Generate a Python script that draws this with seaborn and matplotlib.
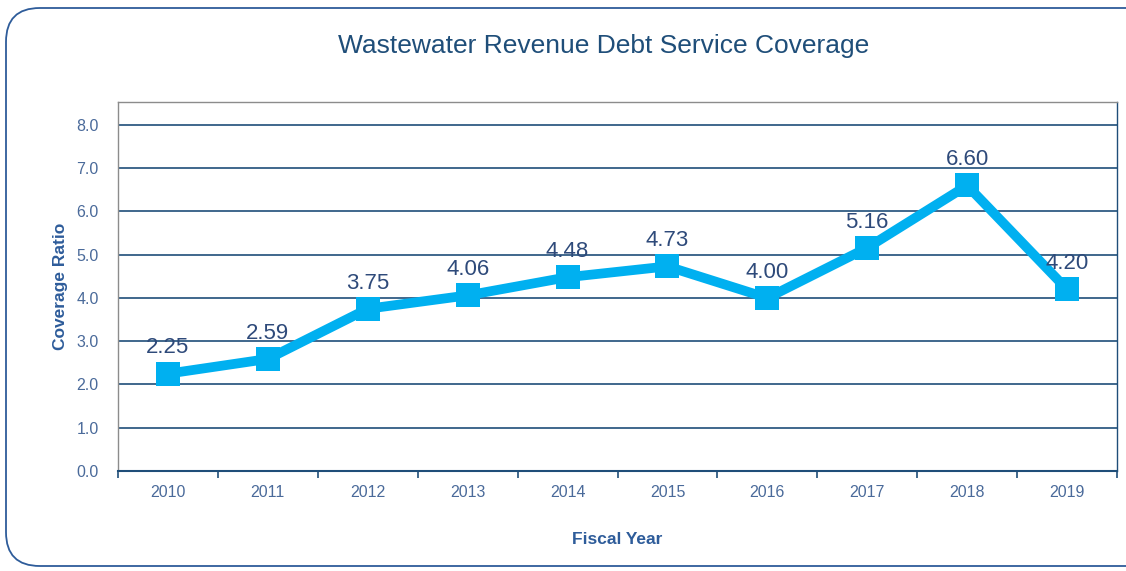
import matplotlib
matplotlib.use("Agg")
import matplotlib.pyplot as plt
import seaborn as sns
import pandas as pd
from matplotlib.patches import FancyBboxPatch

years = ["2010", "2011", "2012", "2013", "2014", "2015", "2016", "2017", "2018", "2019"]
coverage = [2.25, 2.59, 3.75, 4.06, 4.48, 4.73, 4.00, 5.16, 6.60, 4.20]
yticks = [0.0, 1.0, 2.0, 3.0, 4.0, 5.0, 6.0, 7.0, 8.0]

df = pd.DataFrame({"year": years, "cov": coverage})

sns.set_theme(style="white")
plt.rcParams['font.family'] = ['Liberation Sans', 'DejaVu Sans']

navy = "#1F4E79"
label_col = "#2E4A7A"
tick_col = "#4A6A9A"
axlab_col = "#2E5C9A"
line_col = "#00B0F0"

fig = plt.figure(figsize=(11.26, 5.71), dpi=100)
ax = fig.add_axes([118/1126, 1-471/571, (1117-118)/1126, (471-102)/571])

for y in yticks:
    ax.axhline(y, color=navy, lw=1.2, zorder=1)

sns.lineplot(data=df, x="year", y="cov", ax=ax, color=line_col, lw=7,
             marker="s", markersize=17, markeredgewidth=0, sort=False, zorder=3)

for i, v in enumerate(coverage):
    ax.annotate(f"{v:.2f}", (i, v), xytext=(0, 11), textcoords="offset points",
                ha="center", va="bottom", fontsize=16, color=label_col, zorder=4)

ax.set_xlim(-0.5, len(years) - 0.5)
ax.set_ylim(0, 8.53)
ax.set_yticks(yticks)
ax.set_yticklabels([f"{t:.1f}" for t in yticks], fontsize=11.5, color=tick_col)
ax.set_xticks(range(len(years)))
ax.set_xticklabels(years, fontsize=11.5, color=tick_col)
ax.set_xticks([i - 0.5 for i in range(len(years) + 1)], minor=True)
ax.tick_params(axis="x", which="major", bottom=False, length=0, pad=10)
ax.tick_params(axis="x", which="minor", bottom=True, length=5, width=1.2,
               color=navy, direction="out")
ax.tick_params(axis="y", left=False, length=0, pad=14)

for s in ["top", "left"]:
    ax.spines[s].set_color("#8C8C8C")
    ax.spines[s].set_linewidth(1)
ax.spines["right"].set_color(navy)
ax.spines["right"].set_linewidth(1)
ax.spines["bottom"].set_color(navy)
ax.spines["bottom"].set_linewidth(1.5)

ax.set_xlabel("Fiscal Year", fontsize=12.5, color=axlab_col, labelpad=23,
              fontweight="bold")
ax.set_ylabel("Coverage Ratio", fontsize=12.5, color=axlab_col, labelpad=6,
              fontweight="bold")

fig.text(604/1126, 1-46/571, "Wastewater Revenue Debt Service Coverage",
         ha="center", va="center", fontsize=19, color=navy)

border = FancyBboxPatch((6/1126, 5/571), 1.2, 1-13/571, transform=fig.transFigure,
                        boxstyle="round,pad=0,rounding_size=0.03", fill=False,
                        edgecolor="#2E5C9A", lw=1.3, mutation_aspect=1126/571)
fig.patches.append(border)

fig.savefig("out.png", dpi=100)
